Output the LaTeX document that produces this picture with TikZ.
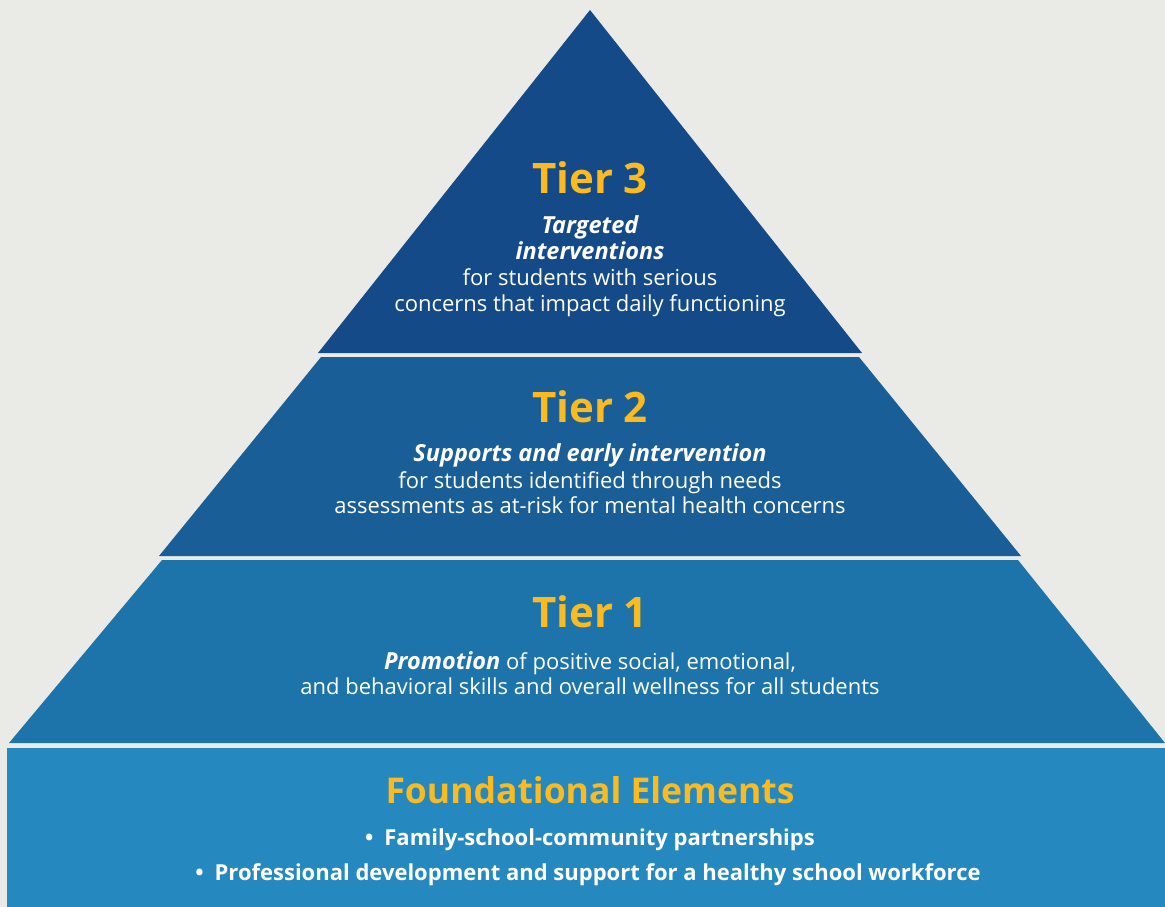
\documentclass[tikz,border=0pt]{standalone}
\usepackage{fontspec}
\setmainfont{Open Sans}
\usepackage{xcolor}
\definecolor{bgGrey}{HTML}{EAEBE6}
\definecolor{tierThree}{HTML}{154A89}
\definecolor{tierTwo}{HTML}{1A5E97}
\definecolor{tierOne}{HTML}{1C74AA}
\definecolor{baseBlue}{HTML}{2589BF}
\definecolor{tierGold}{HTML}{FBBA1F}
\newcommand{\leadfont}{\bfseries\itshape\fontsize{23.5}{26}\selectfont}
\tikzset{
  basic/.style = {align=center, text=white, inner sep=0pt, anchor=base},
  title/.style = {basic, text=tierGold, font=\bfseries\fontsize{42}{46}\selectfont},
  body/.style  = {basic, font=\fontsize{22}{26}\selectfont},
  lead/.style  = {basic, font=\leadfont},
  bullet/.style = {basic, font=\bfseries\fontsize{22}{26}\selectfont}
}

\begin{document}
\begin{tikzpicture}[x=1pt, y=-1pt]

% canvas
\fill[bgGrey] (0,0) rectangle (1165,907);
\useasboundingbox (0,0) rectangle (1165,907);

% the pyramid, top down
\coordinate (apex) at (590,10);
\fill[tierThree] (apex) -- (862,353) -- (318,353) -- cycle;
\fill[tierTwo] (321,357) -- (859,357) -- (1021,556) -- (159,556) -- cycle;
\fill[tierOne] (162,560) -- (1018,560) -- (1165,743) -- (9,743) -- cycle;
% foundation block
\fill[baseBlue] (7,748) rectangle (1165,907);

% tier 3
\node[title] (t3) at (590,193) {Tier 3};
\node[lead] (t3leadA) at (590,233) {Targeted};
\node[lead] (t3leadB) at (590,259) {interventions};
\node[body] (t3bodyA) at (590,285) {for students with serious};
\node[body] (t3bodyB) at (590,311) {concerns that impact daily functioning};

% tier 2
\node[title] (t2) at (590,422) {Tier 2};
\node[lead] (t2lead) at (590,461) {Supports and early intervention};
\node[body] (t2bodyA) at (590,488) {for students identified through needs};
\node[body] (t2bodyB) at (590,513) {assessments as at-risk for mental health concerns};

% tier 1
\node[title] (t1) at (590,627) {Tier 1};
\node[body] (t1bodyA) at (590,669) {{\leadfont Promotion} of positive social, emotional,};
\node[body] (t1bodyB) at (590,694) {and behavioral skills and overall wellness for all students};

% foundational elements
\node[title, font=\bfseries\fontsize{35.5}{40}\selectfont] (base) at (590,803) {Foundational Elements};
\node[bullet] (b1) at (590,845) {\textbullet\enspace Family-school-community partnerships};
\node[bullet] (b2) at (588,880) {\textbullet\enspace Professional development and support for a healthy school workforce};

\end{tikzpicture}
\end{document}
